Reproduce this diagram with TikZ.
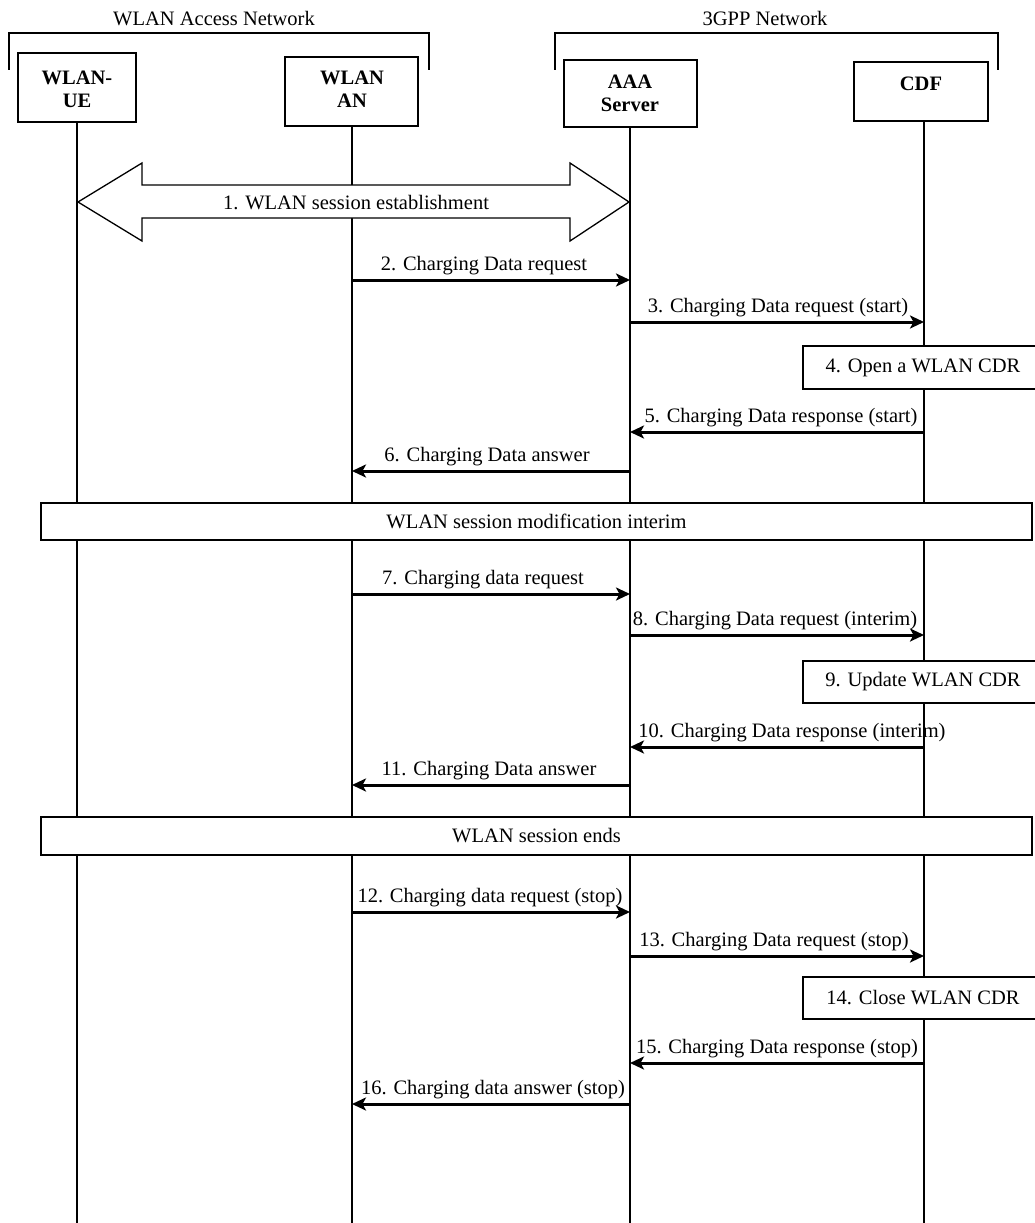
\documentclass[tikz,border=0pt]{standalone}
\usepackage{fontspec}
\setmainfont{Liberation Serif}
\usetikzlibrary{arrows.meta}
\begin{document}
\begin{tikzpicture}[x=1pt,y=-1pt,
  every node/.style={font=\fontsize{20.5}{24}\selectfont},
  lifeline/.style={line width=1.4pt},
  box/.style={draw,line width=1.4pt,fill=white,inner sep=0pt},
  hdrtext/.style={font=\bfseries\fontsize{20.5}{23}\selectfont,align=center,anchor=north,inner sep=0pt},
  msg/.style={line width=3pt,-{Stealth[length=14pt,width=13pt,inset=3.5pt]}},
  lbl/.style={inner sep=0pt,anchor=base},
  brk/.style={line width=1.4pt}]
\useasboundingbox (0,0) rectangle (1035,1223);

% group brackets
\draw[brk] (9,70) -- (9,33) -- (429,33) -- (429,70);
\node[lbl] (gwlan) at (214,26) {WLAN Access Network};
\draw[brk] (555,70) -- (555,33) -- (998,33) -- (998,70);
\node[lbl] (g3gpp) at (765,26) {3GPP Network};

% header boxes
\node[box,minimum width=118pt,minimum height=69pt] (ue) at (77,87.5) {};
\node[hdrtext] (uet) at (77,71) {WLAN-\\UE};
\node[box,minimum width=133pt,minimum height=69pt] (an) at (351.5,91.5) {};
\node[hdrtext] (ant) at (352,71) {WLAN\\AN};
\node[box,minimum width=133pt,minimum height=67pt] (aaa) at (630.5,93.5) {};
\node[hdrtext] (aaat) at (630,75) {AAA\\Server};
\node[box,minimum width=134pt,minimum height=59pt] (cdf) at (921,91.5) {};
\node[hdrtext] (cdft) at (921,77) {CDF};

% lifeline x positions
\coordinate (Lue) at (77,1223);
\coordinate (Lan) at (352,1223);
\coordinate (Laaa) at (630,1223);
\coordinate (Lcdf) at (924,1223);

\draw[lifeline] (ue.south -| Lue) -- (Lue);
\draw[lifeline] (an.south -| Lan) -- (Lan);
\draw[lifeline] (aaa.south -| Laaa) -- (Laaa);
\draw[lifeline] (cdf.south -| Lcdf) -- (Lcdf);

% 1. big double arrow
\draw[line width=1.3pt,fill=white] (78,202) -- (142,163) -- (142,185) -- (570,185) -- (570,163)
  -- (629,202) -- (570,241) -- (570,218) -- (142,218) -- (142,241) -- cycle;
\node[lbl] (m1) at (356,209) {1. WLAN session establishment};

% messages
\draw[msg] (Lan |- 0,280) -- (Laaa |- 0,280);
\node[lbl] (m2) at (484,270) {2. Charging Data request};
\draw[msg] (Laaa |- 0,322) -- (Lcdf |- 0,322);
\node[lbl] (m3) at (778,312) {3. Charging Data request (start)};
\node[box,minimum width=240pt,minimum height=43pt] (b4) at (923,367.5) {4. Open a WLAN CDR};
\draw[msg] (Lcdf |- 0,432) -- (Laaa |- 0,432);
\node[lbl] (m5) at (781,422) {5. Charging Data response (start)};
\draw[msg] (Laaa |- 0,471) -- (Lan |- 0,471);
\node[lbl] (m6) at (487,461) {6. Charging Data answer};

\node[box,minimum width=991pt,minimum height=37pt] (band1) at (536.5,521.5) {WLAN session modification interim};

\draw[msg] (Lan |- 0,594) -- (Laaa |- 0,594);
\node[lbl] (m7) at (483,584) {7. Charging data request};
\draw[msg] (Laaa |- 0,635) -- (Lcdf |- 0,635);
\node[lbl] (m8) at (775,625) {8. Charging Data request (interim)};
\node[box,minimum width=240pt,minimum height=42pt] (b9) at (923,682) {9. Update WLAN CDR};
\draw[msg] (Lcdf |- 0,747) -- (Laaa |- 0,747);
\node[lbl] (m10) at (792,737) {10. Charging Data response (interim)};
\draw[msg] (Laaa |- 0,785) -- (Lan |- 0,785);
\node[lbl] (m11) at (489,775) {11. Charging Data answer};

\node[box,minimum width=991pt,minimum height=38pt] (band2) at (536.5,836) {WLAN session ends};

\draw[msg] (Lan |- 0,912) -- (Laaa |- 0,912);
\node[lbl] (m12) at (490,902) {12. Charging data request (stop)};
\draw[msg] (Laaa |- 0,956) -- (Lcdf |- 0,956);
\node[lbl] (m13) at (774,946) {13. Charging Data request (stop)};
\node[box,minimum width=240pt,minimum height=42pt] (b14) at (923,998) {14. Close WLAN CDR};
\draw[msg] (Lcdf |- 0,1063) -- (Laaa |- 0,1063);
\node[lbl] (m15) at (777,1053) {15. Charging Data response (stop)};
\draw[msg] (Laaa |- 0,1104) -- (Lan |- 0,1104);
\node[lbl] (m16) at (493,1094) {16. Charging data answer (stop)};
\end{tikzpicture}
\end{document}
